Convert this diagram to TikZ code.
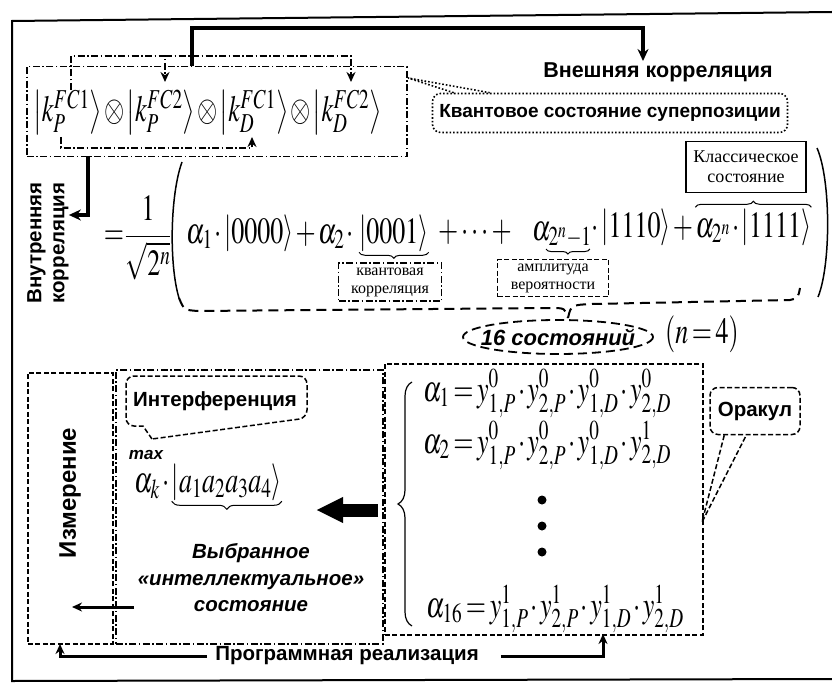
\documentclass[tikz,border=0pt]{standalone}
\usepackage{mathptmx}
\usepackage{fontspec}
\setmainfont{Liberation Serif}
\setsansfont{Liberation Sans}
\usepackage{graphicx}
\usetikzlibrary{arrows.meta,calc,positioning,decorations.pathreplacing}

\begin{document}
\begin{tikzpicture}[x=1pt, y=-1pt, >={Stealth[length=10pt,width=9pt]},
    lbl/.style={font=\sffamily\bfseries\fontsize{20.5}{23}\selectfont, inner sep=0pt},
    ilbl/.style={font=\sffamily\bfseries\itshape\fontsize{20.5}{26.5}\selectfont, align=center, inner sep=0pt},
    slbl/.style={font=\fontsize{16}{18}\selectfont, align=center, inner sep=0pt},
    mth/.style={font=\fontsize{26}{30}\selectfont, inner sep=0pt},
    dd/.style={line width=1.5pt, dash pattern=on 7pt off 2.5pt on 1.5pt off 2.5pt},
    ds/.style={line width=1.5pt, dash pattern=on 5pt off 2.5pt},
    thk/.style={line width=4pt}]
  \newcommand{\tallm}[1]{\scalebox{1}[1.42]{\medmuskip=1.5mu\relax\thickmuskip=2.5mu\relax#1}}
  \useasboundingbox (0,0) rectangle (832,687);
  % frame
  \draw[line width=2pt] (832,12) -- (12,21) -- (12,681) -- (832,679);
  %%% top: superposition state
  \node[mth, anchor=west] (tens) at (33,112) {\tallm{$\left|k_P^{FC1}\right\rangle\otimes\left|k_P^{FC2}\right\rangle\otimes\left|k_D^{FC1}\right\rangle\otimes\left|k_D^{FC2}\right\rangle$}};
  \node[draw, dd, minimum width=380, minimum height=90, anchor=north west] (tbox) at (26,66) {};
  % inner links between kets
  \coordinate (kA) at (71,90);
  \coordinate (kB) at (165,82);
  \coordinate (kC) at (351,82);
  \coordinate (kD) at (61,137);
  \coordinate (kE) at (252,137);
  \draw[dd, ->] (kA) |- (kB |- 0,56) -- (kB);
  \draw[dd, ->] (kB |- 0,56) -- (kC |- 0,56) -- (kC);
  \draw[dd, ->] (kD) -- (kD |- 0,148) -- (kE |- 0,148) -- (kE);
  % external correlation
  \node[lbl, font=\sffamily\bfseries\fontsize{21.5}{23}\selectfont] (ext) at (658,72) {Внешняя корреляция};
  \coordinate (eA) at (192,66);
  \coordinate (eB) at (643,61);
  \draw[thk, -{Stealth[length=12pt,width=11pt]}] (eA) -- (eA |- 0,28) -- (eB |- 0,28) -- (eB);
  % internal correlation
  \node[lbl, rotate=90, align=center] (intc) at (48,243) {Внутренняя\\корреляция};
  \coordinate (iA) at (88,156);
  \draw[thk, -{Stealth[length=12pt,width=11pt]}] (iA) |- (intc.south |- 0,215);
  % callout: superposition
  \node[lbl, draw, dotted, line width=1.6pt, rounded corners=8pt, minimum width=355, minimum height=39, font=\sffamily\bfseries\fontsize{19}{22}\selectfont] (qs) at (610,113) {Квантовое состояние суперпозиции};
  \coordinate (qT) at (408,78);
  \draw[dotted, line width=1.6pt] ([xshift=22pt]qs.north west) -- (qT) -- ([xshift=58pt]qs.north west);
  %%% state expansion
  \node[mth] (eq) at (114,238) {\tallm{$=$}};
  \node[mth] (frac) at (148,238) {\tallm{$\displaystyle\frac{1}{\sqrt{2^n}}$}};
  \draw[line width=1.5pt] (182,162) .. controls (170,195) and (169,265) .. (179,298);
  \draw[line width=1.5pt] (817,148) .. controls (831,180) and (831,265) .. (818,297);
  \node[mth, anchor=base west] (s1) at (186,243) {\tallm{$\alpha_1\cdot\left|0000\right\rangle+\alpha_2\cdot{}$}};
  \node[mth, anchor=base west] (k2) at (359,243) {\tallm{$\left|0001\right\rangle$}};
  \node[mth, anchor=base west] (s3) at (438,241) {\tallm{$+\cdots+$}};
  \node[mth, anchor=base west] (am) at (532,240) {\tallm{$\alpha_{2^n-1}$}};
  \node[mth, anchor=base west] (s4) at (591,237) {\tallm{$\cdot\left|1110\right\rangle+{}$}};
  \node[mth, anchor=base west] (k5) at (s4.base east) {\tallm{$\alpha_{2^n}\cdot\left|1111\right\rangle$}};
  % labels of the terms
  \node[slbl, draw, dd, minimum width=103, minimum height=38] (kc) at (390,282) {квантовая\\корреляция};
  \node[slbl, draw, ds, minimum width=111, minimum height=37] (ap) at (553,278) {амплитуда\\вероятности};
  \node[slbl, draw, line width=1.2pt, font=\fontsize{18}{20}\selectfont, minimum width=120, minimum height=51] (cl) at (746,167) {Классическое\\состояние};
  \draw[decorate, decoration={brace, amplitude=6pt}, line width=1pt] (k2.south east) -- (k2.south west);
  \draw[decorate, decoration={brace, amplitude=5pt}, line width=1pt] ([xshift=-2pt,yshift=-1pt]am.south east) -- ([xshift=14pt,yshift=-1pt]am.south west);
  \draw[decorate, decoration={brace, amplitude=6pt}, line width=1pt] ([yshift=2pt]k5.north west) -- ([yshift=2pt]k5.north east);
  % dashed brace: 16 states
  \draw[line width=2pt, dash pattern=on 10pt off 6pt] (179,298) .. controls (184,310) .. (198,311) -- (550,308) .. controls (565,308) .. (568,318);
  \draw[line width=2pt, dash pattern=on 10pt off 6pt] (568,318) .. controls (571,305) .. (592,304) -- (790,300) .. controls (798,298) .. (800,288);
  \node[ilbl, font=\sffamily\bfseries\itshape\fontsize{22}{25}\selectfont] (st16) at (558,337) {16 состояний};
  \draw[line width=1.8pt, dash pattern=on 9pt off 5pt] (st16.center) ellipse (95 and 17);
  \node[mth] (nn) at (702,334) {\tallm{$(n=4)$}};
  %%% bottom: measurement, interference, oracle
  \node[draw, ds, minimum width=85, minimum height=271, anchor=north west] (meas) at (27,372) {};
  \node[lbl, rotate=90, font=\sffamily\bfseries\fontsize{24}{26}\selectfont] (measl) at (70,493) {Измерение};
  \node[draw, dd, minimum width=267, minimum height=274, anchor=north west] (mid) at (115,369) {};
  \node[draw, ds, minimum width=318, minimum height=271, anchor=north west] (orb) at (384,363) {};
  % interference callout
  \node[lbl] (intf) at (215,401) {Интерференция};
  \draw[ds] (152,439) -- (143,426) [rounded corners=8pt]-- (126,426) -- (126,376) -- (307,376) -- (307,418) [sharp corners]-- (152,439);
  \node[font=\sffamily\bfseries\itshape\fontsize{17}{17}\selectfont, inner sep=0pt] (mx) at (146,455) {max};
  \node[mth, anchor=base west] (ak) at (134,492) {\tallm{$\alpha_k\cdot{}$}};
  \node[mth, anchor=base west] (ka) at (ak.base east) {\tallm{$\left|a_1a_2a_3a_4\right\rangle$}};
  \draw[decorate, decoration={brace, amplitude=8pt}, line width=1pt] (ka.south east) -- (ka.south west);
  \node[ilbl] (sel) at (251,578) {Выбранное\\«интеллектуальное»\\состояние};
  % arrows
  \coordinate (bA) at (378,510);
  \coordinate (bB) at (316,510);
  \draw[line width=13pt, -{Triangle[length=27pt,width=24pt]}] (bA) -- (bB);
  \coordinate (mA) at (134,607);
  \coordinate (mB) at (72,607);
  \draw[line width=3pt, ->] (mA) -- (mB);
  % oracle equations
  \draw[decorate, decoration={brace, amplitude=14pt}, line width=1.2pt] (412,626) -- (412,382);
  \node[mth, anchor=base west] (o1) at (423,401) {\tallm{$\alpha_1=y^0_{1,P}\cdot y^0_{2,P}\cdot y^0_{1,D}\cdot y^0_{2,D}$}};
  \node[mth, anchor=base west] (o2) at (423,453) {\tallm{$\alpha_2=y^0_{1,P}\cdot y^0_{2,P}\cdot y^0_{1,D}\cdot y^1_{2,D}$}};
  \node[mth, anchor=base west] (o16) at (426,617) {\tallm{$\alpha_{16}=y^1_{1,P}\cdot y^1_{2,P}\cdot y^1_{1,D}\cdot y^1_{2,D}$}};
  \foreach \y in {500,526,552}
    \fill (542,\y) circle (4.5);
  % oracle callout
  \node[lbl, draw, ds, rounded corners=8pt, minimum width=90, minimum height=47] (orc) at (755,411) {Оракул};
  \coordinate (oT) at (702,522);
  \draw[ds] ([xshift=15pt]orc.south west) -- (oT) -- ([xshift=37pt]orc.south west);
  % software realisation
  \node[lbl] (prog) at (347,656) {Программная реализация};
  \coordinate (pA) at (60,644);
  \coordinate (pB) at (603,634);
  \draw[line width=3pt, ->] ([xshift=-8pt]prog.west) -| (pA);
  \draw[line width=3pt, ->] ([xshift=22pt]prog.east) -| (pB);
\end{tikzpicture}
\end{document}
